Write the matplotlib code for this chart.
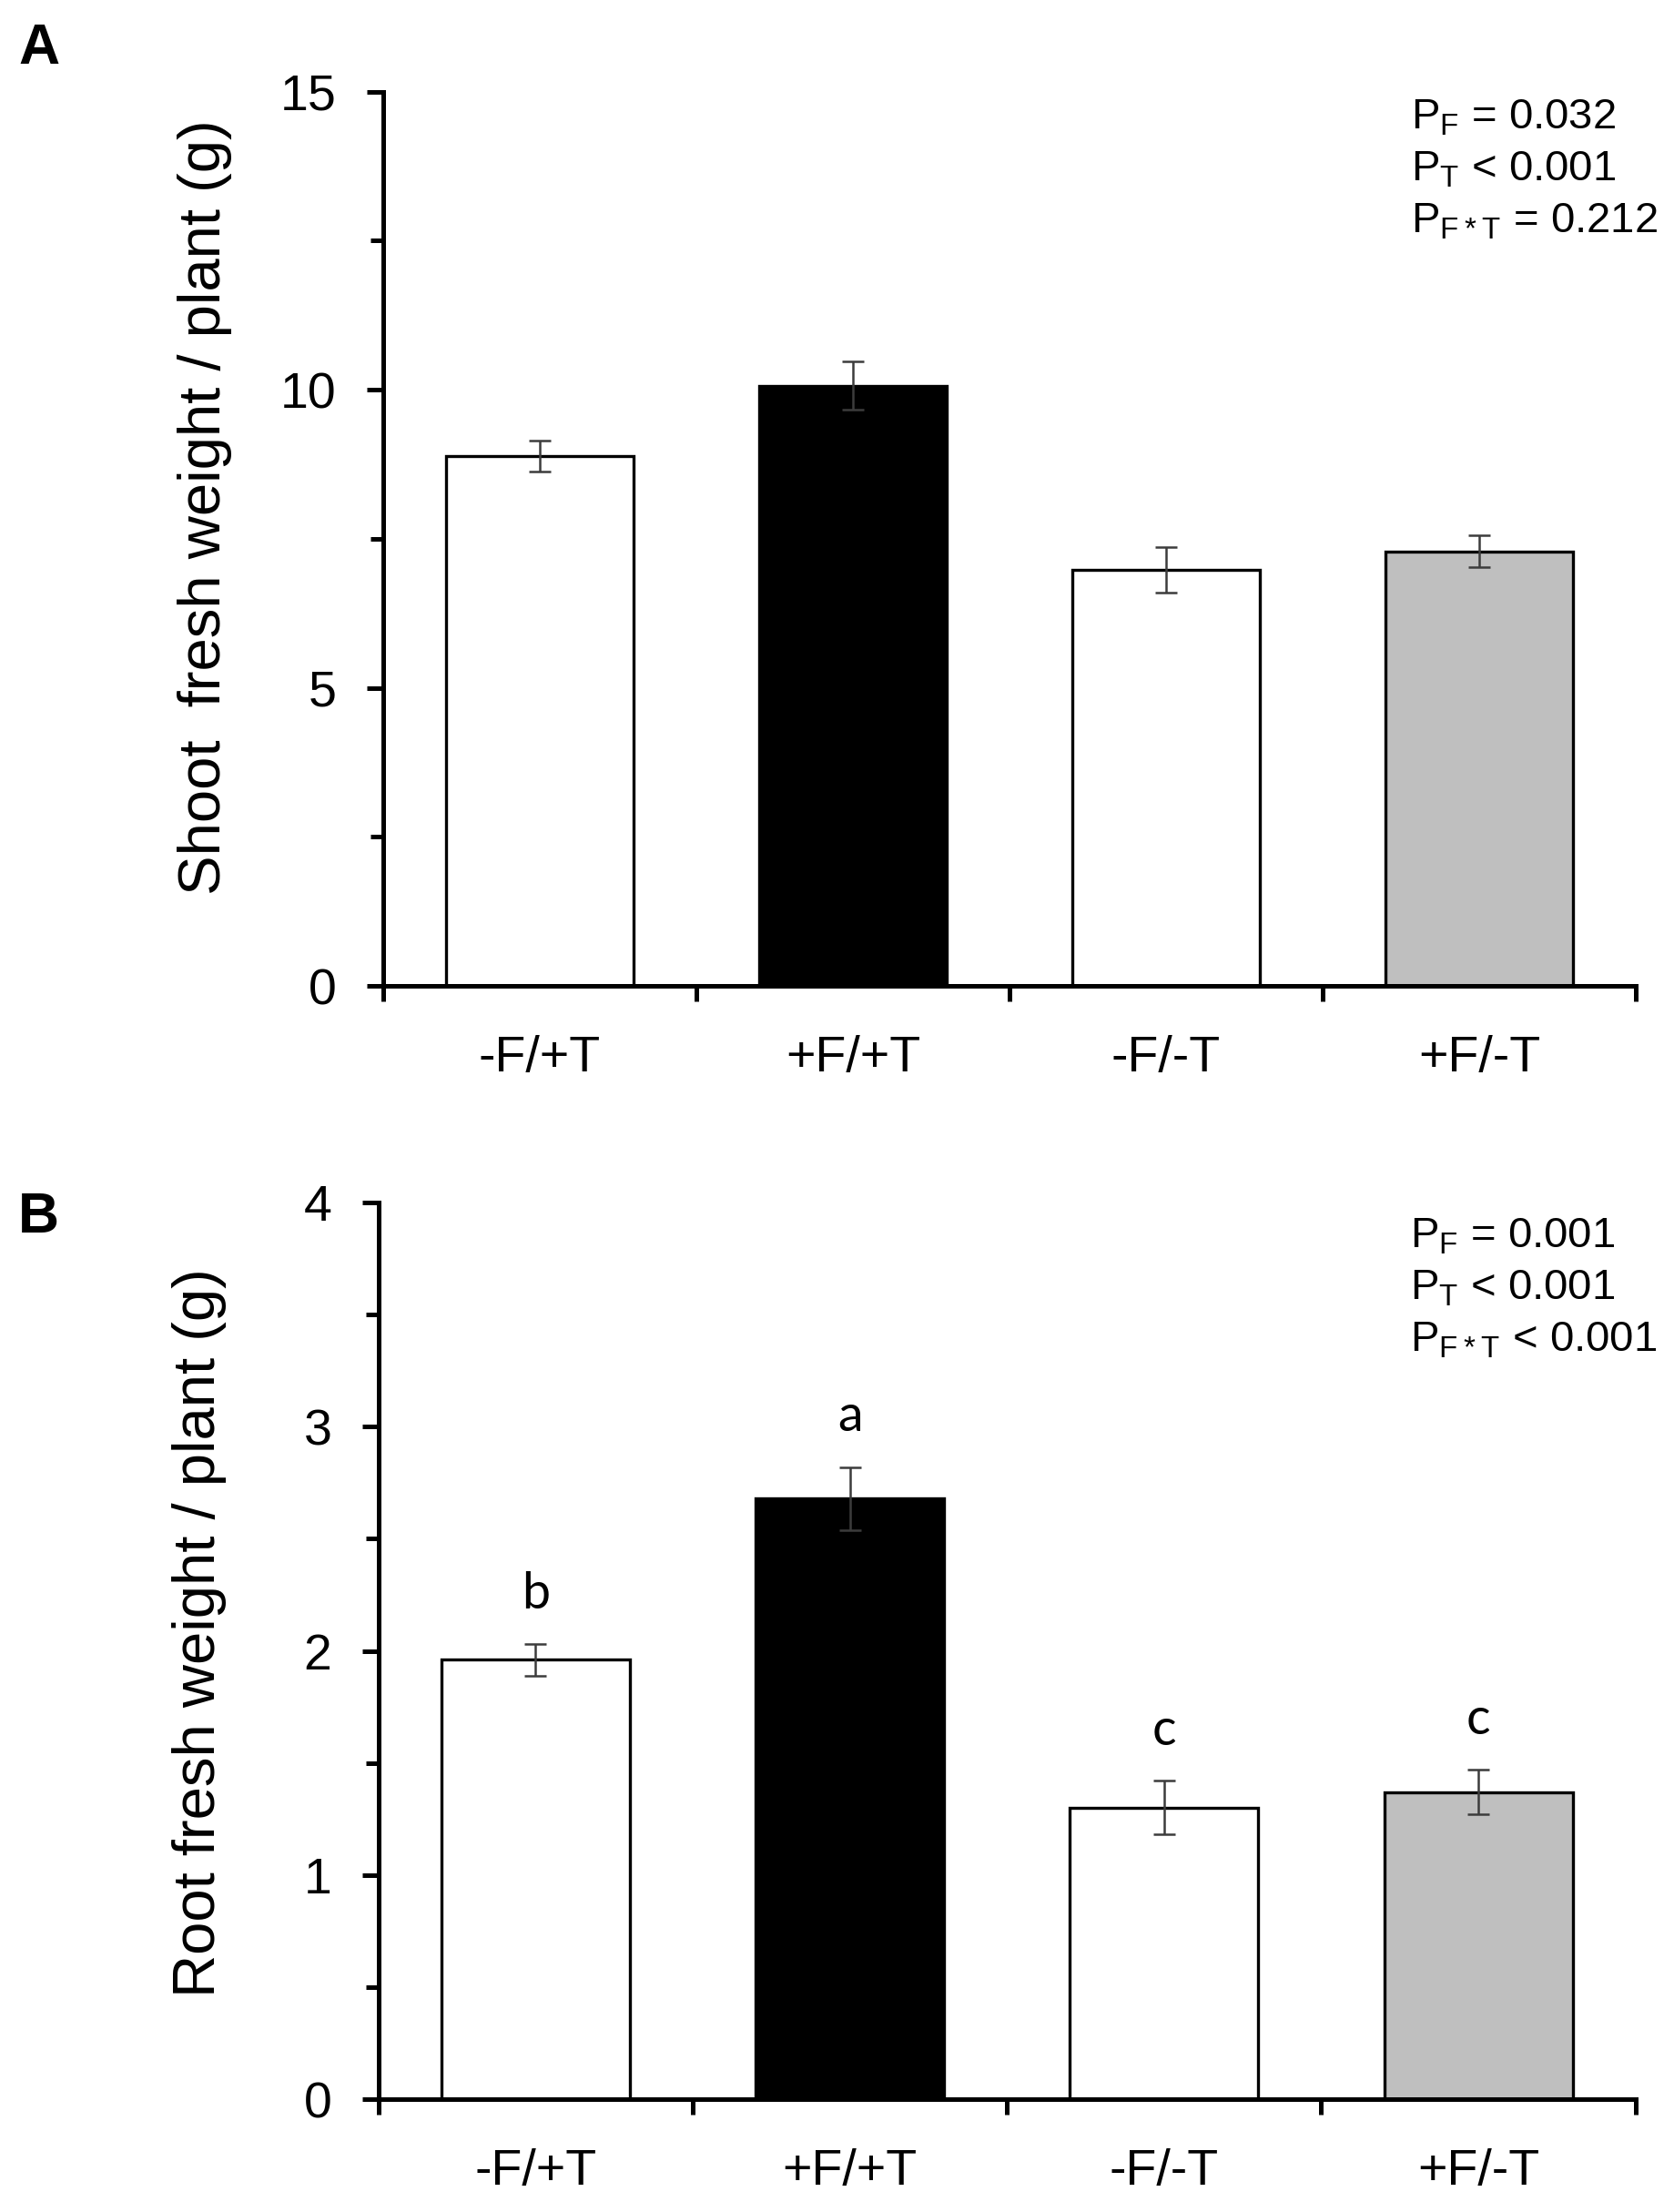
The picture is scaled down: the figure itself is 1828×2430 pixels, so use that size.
import matplotlib
matplotlib.use("Agg")
import matplotlib.pyplot as plt
from matplotlib.ticker import FixedLocator, NullFormatter

plt.rcParams['font.family'] = ['Liberation Sans', 'DejaVu Sans']

# data
groups = ['-F/+T', '+F/+T', '-F/-T', '+F/-T']
bar_colors = ['white', 'black', 'white', '#bfbfbf']

shoot_mean = [8.88, 10.07, 6.98, 7.29]
shoot_se = [0.26, 0.41, 0.38, 0.27]
shoot_p = [r'P$_\mathregular{F}$ = 0.032',
           r'P$_\mathregular{T}$ < 0.001',
           r'P$_\mathregular{F*T}$ = 0.212']

root_mean = [1.96, 2.68, 1.30, 1.37]
root_se = [0.07, 0.14, 0.12, 0.10]
root_letters = ['b', 'a', 'c', 'c']
root_p = [r'P$_\mathregular{F}$ = 0.001',
          r'P$_\mathregular{T}$ < 0.001',
          r'P$_\mathregular{F*T}$ < 0.001']

fig = plt.figure(figsize=(18.28, 24.30), dpi=100)
ax1 = fig.add_axes([0.2303, 0.5543, 0.7527, 0.4043])
ax2 = fig.add_axes([0.2274, 0.0510, 0.7555, 0.4054])


def draw_panel(ax, means, errs, ymax, ystep, ylabel, ptexts, label_y, p_y):
    x = range(len(groups))
    ax.bar(x, means, width=0.6, color=bar_colors, edgecolor='black',
           linewidth=2.4, zorder=2)
    ax.errorbar(x, means, yerr=errs, fmt='none', ecolor='#3c3c3c',
                elinewidth=1.8, capsize=8.3, capthick=1.8, zorder=3)
    ax.set_xlim(-0.5, len(groups) - 0.5)
    ax.set_ylim(0, ymax)
    for s in ['top', 'right']:
        ax.spines[s].set_visible(False)
    for s in ['left', 'bottom']:
        ax.spines[s].set_linewidth(3.6)

    ax.set_yticks([i * ystep for i in range(int(ymax / ystep) + 1)])
    ax.yaxis.set_minor_locator(FixedLocator(
        [(i + 0.5) * ystep for i in range(int(ymax / ystep))]))
    ax.tick_params(axis='y', which='major', direction='out', length=13,
                   width=3.6, labelsize=40, pad=24)
    ax.tick_params(axis='y', which='minor', direction='out', length=10,
                   width=3.6)

    ax.set_xticks(list(x))
    ax.set_xticklabels(groups)
    ax.xaxis.set_minor_locator(FixedLocator(
        [i - 0.5 for i in range(len(groups) + 1)]))
    ax.xaxis.set_minor_formatter(NullFormatter())
    ax.tick_params(axis='x', which='major', length=0, labelsize=40, pad=39)
    ax.tick_params(axis='x', which='minor', direction='out', length=12,
                   width=3.6)

    ax.set_ylabel(ylabel, fontsize=47)
    ax.yaxis.set_label_coords(-0.121, label_y)

    for i, t in enumerate(ptexts):
        ax.text(0.8205, p_y - i * 0.058, t, transform=ax.transAxes,
                fontsize=34, va='baseline', ha='left')


draw_panel(ax1, shoot_mean, shoot_se, 15, 5,
           'Shoot  fresh weight / plant (g)', shoot_p, 0.535, 0.958)
draw_panel(ax2, root_mean, root_se, 4, 1,
           'Root fresh weight / plant (g)', root_p, 0.52, 0.950)

for i, lt in enumerate(root_letters):
    ax2.text(i, root_mean[i] + root_se[i] + 0.16, lt, ha='center',
             va='baseline', fontsize=40, family=['Lato', 'DejaVu Sans'])

fig.text(0.011, 0.9712, 'A', fontsize=45, fontweight='bold', va='baseline')
fig.text(0.011, 0.4426, 'B', fontsize=45, fontweight='bold', va='baseline')

fig.savefig('out.png', dpi=100, facecolor='white')
